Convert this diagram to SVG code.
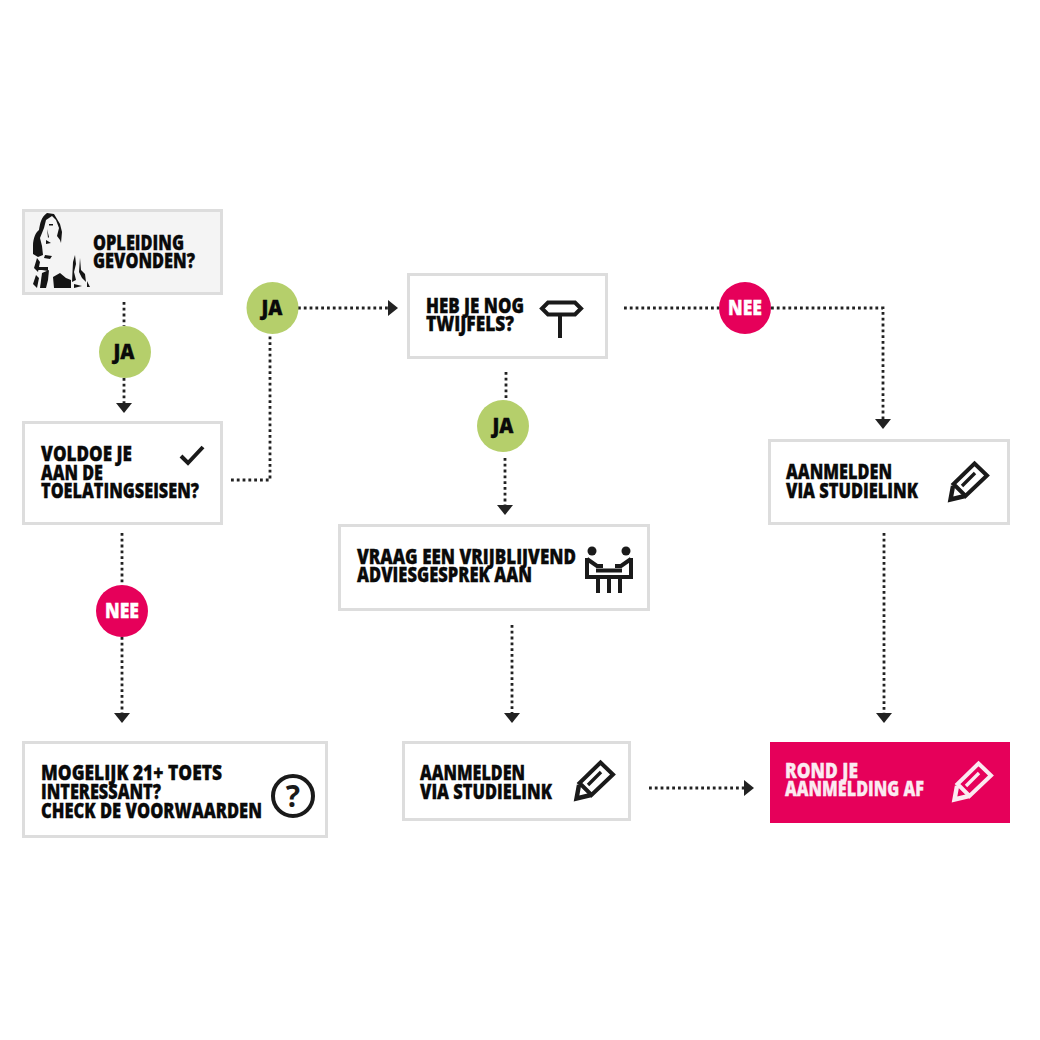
<svg xmlns="http://www.w3.org/2000/svg" xmlns:xlink="http://www.w3.org/1999/xlink" width="1040" height="1040" viewBox="0 0 1040 1040">
<style>
.box{fill:#fff;stroke:#ddd;stroke-width:3}
text{font-family:"Open Sans","Noto Sans","Liberation Sans",sans-serif;font-weight:800;font-size:21px;fill:#0a0a0a;stroke:#0a0a0a;stroke-width:.35}
.w{fill:#fbeaf1;stroke:#fbeaf1}
.c{text-anchor:middle}
.ja{fill:#b5cf6b}
.nee{fill:#e6005a}
.nee text{fill:#fff;stroke:#fff}
.dot{fill:none;stroke:#222;stroke-width:2.800;stroke-dasharray:2.800 3}
.ic{fill:none;stroke:#1a1a1a;stroke-width:4}
</style>
<defs>
<marker id="ah" markerUnits="userSpaceOnUse" markerWidth="12" markerHeight="18" refX="0" refY="8" orient="auto"><path d="M0 0L10 8L0 16Z" fill="#222"/></marker>
<g id="pencil"><path d="M974.500 463.500L987 475.500L965.500 496L953.500 484Z"/><path d="M962 486L975 473" style="stroke-width:3.400"/><path d="M953 486L950.500 499.500L965 496" style="stroke-width:4.400"/></g>
</defs>
<g id="connectors">
<path class="dot" d="M124 302V326"/>
<path class="dot" d="M124 378V403" marker-end="url(#ah)"/>
<path class="dot" d="M231 480H270V334"/>
<path class="dot" d="M298 308H388" marker-end="url(#ah)"/>
<path class="dot" d="M506 372V398"/>
<path class="dot" d="M505 458V505" marker-end="url(#ah)"/>
<path class="dot" d="M624 308H719"/>
<path class="dot" d="M771 308H883V419" marker-end="url(#ah)"/>
<path class="dot" d="M122 533V585"/>
<path class="dot" d="M122 637V713" marker-end="url(#ah)"/>
<path class="dot" d="M512 625V713" marker-end="url(#ah)"/>
<path class="dot" d="M884 533V713" marker-end="url(#ah)"/>
<path class="dot" d="M649 788H744" marker-end="url(#ah)"/>
</g>
<g id="n1">
<rect class="box" x="23.500" y="210.500" width="198" height="83" style="fill:#f4f4f4"/>
<g id="photo" fill="#141414">
<path d="M47 213C41 217 40 224 39 230C36 232 33 238 33 246L33 254L38 257L43 255L42 246L40 238L44 228L46 220L52 216L56 220L59 228L57 236L60 240L61 243L62 232L60 224L54 214Z"/>
<path d="M46 240L51 243L46 244ZM49 224L53 224L53 225.500L49 225.500ZM47 229L49 237L48 238Z"/>
<path d="M37 258L40 262L38 272L34 268ZM36 275L39 278L37 288L33 284Z"/>
<path d="M38 267L48 267L48 271L42 270L38 270Z"/>
<path d="M42 273L49 270L48 280L46 288L40 288Z"/>
<path d="M53 277L60 273L66 278L71 280L71 288L54 288Z"/>
<path d="M45 255L52 256L50 259L44 258Z"/>
<path d="M73 262L75 255L76 264L74 272L76 280L72 282ZM80 258L81 270L85 274L86 282L82 278L79 272ZM74 284L82 286L74 288ZM87 281L90 287L87 287Z"/>
</g>
<text x="93" y="249.500" textLength="91" lengthAdjust="spacingAndGlyphs">OPLEIDING</text>
<text x="93" y="268" textLength="102" lengthAdjust="spacingAndGlyphs">GEVONDEN?</text>
</g>
<g id="n2">
<rect class="box" x="23.500" y="422.500" width="198" height="101"/>
<text x="41" y="461" textLength="91" lengthAdjust="spacingAndGlyphs">VOLDOE JE</text>
<text x="41" y="479.500" textLength="62" lengthAdjust="spacingAndGlyphs">AAN DE</text>
<text x="41" y="498" textLength="158" lengthAdjust="spacingAndGlyphs">TOELATINGSEISEN?</text>
<path class="ic" d="M181 456L188 463L203 447"/>
</g>
<g id="n3">
<rect class="box" x="408.500" y="274.500" width="198" height="83"/>
<text x="426" y="313" textLength="98" lengthAdjust="spacingAndGlyphs">HEB JE NOG</text>
<text x="426" y="331" textLength="88" lengthAdjust="spacingAndGlyphs">TWIJFELS?</text>
<path class="ic" d="M548 302.500H575L581 308.500L575 314.500H548L542 308.500ZM560 314.500V338"/>
</g>
<g id="n4">
<rect class="box" x="339.500" y="525.500" width="309" height="84"/>
<text x="357" y="564" textLength="219" lengthAdjust="spacingAndGlyphs">VRAAG EEN VRIJBLIJVEND</text>
<text x="357" y="582" textLength="175" lengthAdjust="spacingAndGlyphs">ADVIESGESPREK AAN</text>
<circle cx="592" cy="551" r="4.500" fill="#1a1a1a"/><circle cx="626" cy="551" r="4.500" fill="#1a1a1a"/>
<path class="ic" d="M587 558V577H598V593M587 559L597 566H603M631 558V577H620V593M631 559L621 566H615M596 570.500H622M596 577H622M609 578V593"/>
</g>
<g id="n5">
<rect class="box" x="769.500" y="440.500" width="239" height="83"/>
<text x="786" y="479" textLength="106" lengthAdjust="spacingAndGlyphs">AANMELDEN</text>
<text x="786" y="498" textLength="132" lengthAdjust="spacingAndGlyphs">VIA STUDIELINK</text>
<use xlink:href="#pencil" class="ic"/>
</g>
<g id="n6">
<rect class="box" x="23.500" y="742.500" width="303" height="94"/>
<text x="41" y="780" textLength="181" lengthAdjust="spacingAndGlyphs">MOGELIJK 21+ TOETS</text>
<text x="41" y="799" textLength="120" lengthAdjust="spacingAndGlyphs">INTERESSANT?</text>
<text x="41" y="818" textLength="221" lengthAdjust="spacingAndGlyphs">CHECK DE VOORWAARDEN</text>
<circle class="ic" cx="293" cy="796" r="20"/>
<text class="c" x="293" y="807" style="font-size:30px;font-weight:700;fill:#1a1a1a;stroke:none">?</text>
</g>
<g id="n7">
<rect class="box" x="403.500" y="742.500" width="226" height="77"/>
<text x="420" y="780" textLength="105" lengthAdjust="spacingAndGlyphs">AANMELDEN</text>
<text x="420" y="799" textLength="132" lengthAdjust="spacingAndGlyphs">VIA STUDIELINK</text>
<use xlink:href="#pencil" class="ic" transform="translate(-374 299)"/>
</g>
<g id="n8">
<rect x="770" y="742" width="240" height="81" fill="#e6005a"/>
<text class="w" x="785" y="778" textLength="73" lengthAdjust="spacingAndGlyphs">ROND JE</text>
<text class="w" x="785" y="796" textLength="139" lengthAdjust="spacingAndGlyphs">AANMELDING AF</text>
<use xlink:href="#pencil" class="ic" style="stroke:#fbeaf1" transform="translate(4 300)"/>
</g>
<g id="q1" class="ja"><circle cx="125" cy="352" r="26"/><text class="c" x="124" y="359" textLength="21" lengthAdjust="spacingAndGlyphs">JA</text></g>
<g id="q2" class="ja"><circle cx="272.500" cy="308" r="26"/><text class="c" x="272" y="315" textLength="21" lengthAdjust="spacingAndGlyphs">JA</text></g>
<g id="q3" class="ja"><circle cx="503" cy="426" r="26"/><text class="c" x="503" y="433" textLength="21" lengthAdjust="spacingAndGlyphs">JA</text></g>
<g id="q4" class="nee"><circle cx="745" cy="308" r="26"/><text class="c" x="745" y="315" textLength="34" lengthAdjust="spacingAndGlyphs">NEE</text></g>
<g id="q5" class="nee"><circle cx="122" cy="611" r="26"/><text class="c" x="122" y="618" textLength="34" lengthAdjust="spacingAndGlyphs">NEE</text></g>
</svg>
